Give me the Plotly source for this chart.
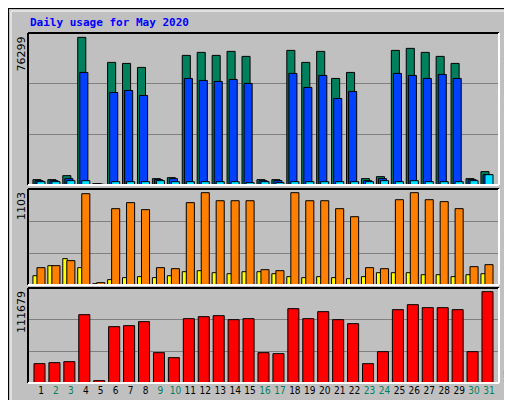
import plotly.graph_objects as go

days = list(range(1, 32))
weekend = [2, 3, 9, 10, 16, 17, 23, 24, 30, 31]
hits = [2762, 2762, 4833, 76299, 690, 63350, 62830, 60760, 3280, 3797, 66970, 68525, 66970, 69045, 66455,
        2762, 2762, 69560, 63350, 69045, 55065, 58170, 3280, 4315, 69560, 70600, 68525, 66455, 62830, 3280, 6904]
files = [2244, 2244, 3280, 58170, 518, 47815, 48850, 46260, 2762, 3280, 55065, 54030, 53510, 54545, 52475,
         2244, 2244, 57650, 50400, 56620, 44710, 48330, 2244, 3280, 57650, 56620, 55065, 57135, 55065, 2762, 5350]
pages = [1726, 1726, 2244, 2244, 345, 1726, 1726, 1726, 2244, 1726, 1726, 1726, 1726, 1726, 1208,
         1726, 1208, 1726, 1726, 1726, 1726, 1726, 1726, 2244, 1726, 2244, 1726, 1726, 1726, 2244, 5350]
sites = [207, 231, 291, 1091, 28, 912, 984, 900, 207, 195, 984, 1103, 1007, 1007, 1007,
         183, 171, 1103, 1007, 1007, 912, 816, 207, 195, 1019, 1103, 1019, 996, 912, 219, 243]
visits = [111, 231, 315, 207, 16, 64, 88, 100, 88, 111, 159, 171, 147, 135, 159,
          159, 135, 100, 88, 100, 88, 76, 100, 147, 147, 147, 123, 123, 100, 123, 135]
kbytes = [23640, 24860, 26090, 83560, 2850, 68880, 70110, 75000, 37090, 30980, 78670, 81110, 82340, 77440, 78670,
          37090, 35870, 90890, 78670, 87230, 77440, 72550, 23640, 38310, 89670, 95790, 92120, 92120, 89670, 38310, 111679]

BG = "#c0c0c0"
line = dict(color="black", width=1)
fig = go.Figure()
def bar(y, color, off, w, ax):
    fig.add_trace(go.Bar(x=days, y=y, marker=dict(color=color, line=line), offset=off, width=w,
                         xaxis=ax[0], yaxis=ax[1], showlegend=False, hoverinfo="skip"))
bar(hits, "#00805c", -0.54, 0.54, ("x", "y"))
bar(files, "#0040ff", -0.4, 0.54, ("x", "y"))
bar(pages, "#00e0ff", -0.27, 0.54, ("x", "y"))
bar(visits, "#ffff00", -0.54, 0.3, ("x2", "y2"))
bar(sites, "#ff8000", -0.27, 0.54, ("x2", "y2"))
bar(kbytes, "#ff0000", -0.47, 0.74, ("x3", "y3"))

xd = [20/512, 491/512]
xr = [0.13, 31.67]
ticktext = [f"<span style='color:{'#00805c' if d in weekend else 'black'}'>{d}</span>" for d in days]
common_x = dict(domain=xd, range=xr, showgrid=False, zeroline=False, fixedrange=True)
fig.update_layout(
    width=512, height=400, margin=dict(l=0, r=0, t=0, b=0),
    paper_bgcolor=BG, plot_bgcolor=BG, barmode="overlay",
    font=dict(family="DejaVu Sans", size=11, color="black"),
    xaxis=dict(**common_x, showticklabels=False, anchor="y"),
    xaxis2=dict(**common_x, showticklabels=False, anchor="y2"),
    xaxis3=dict(**common_x, anchor="y3", tickvals=days, ticktext=ticktext, ticks="", tickangle=0,
                tickfont=dict(size=10, family="DejaVu Sans Condensed"), ticklen=0),
)
def yax(R, dom):
    return dict(domain=dom, range=[0, R], tickvals=[R/3, 2*R/3], showticklabels=False,
                gridcolor="#808080", gridwidth=1, zeroline=False, showline=False)
fig.update_layout(yaxis=yax(78543, [0.5575, 0.9375]) | dict(anchor="x"),
                  yaxis2=yax(1147, [0.3075, 0.5475]) | dict(anchor="x2"),
                  yaxis3=yax(116160, [0.0625, 0.3]) | dict(anchor="x3"))

shapes = []
for y0, y1 in [(0.5575, 0.9375), (0.3075, 0.5475), (0.0625, 0.3)]:
    x0, x1 = xd
    shapes += [
        dict(type="line", xref="paper", yref="paper", x0=x0, x1=x1, y0=y1, y1=y1, line=dict(color="black", width=2)),
        dict(type="line", xref="paper", yref="paper", x0=x0, x1=x0, y0=y0, y1=y1, line=dict(color="black", width=2)),
        dict(type="line", xref="paper", yref="paper", x0=x0, x1=x1, y0=y0, y1=y0, line=dict(color="white", width=2)),
        dict(type="line", xref="paper", yref="paper", x0=x1, x1=x1, y0=y0, y1=y1, line=dict(color="white", width=2)),
    ]
shapes += [
    dict(type="rect", xref="paper", yref="paper", x0=0, x1=1, y0=0, y1=1, line=dict(color="black", width=2)),
    dict(type="rect", xref="paper", yref="paper", x0=3/512, x1=509/512, y0=3/400, y1=397/400,
         line=dict(color="white", width=1)),
]
fig.update_layout(shapes=shapes)

mono = dict(family="DejaVu Sans Mono", size=11)
ann = [
    dict(text="<b>Daily usage for May 2020</b>", x=20/512, y=1-15/400, xanchor="left", yanchor="middle",
         font=dict(color="#0000ff", size=11, family="DejaVu Sans Mono")),
    dict(text="76299", x=13/512, y=1-27/400, yanchor="top", font=dict(size=11)),
    dict(text="1103", x=13/512, y=1-182/400, yanchor="top", font=dict(size=11)),
    dict(text="111679", x=13/512, y=1-281/400, yanchor="top", font=dict(size=11)),
]
right = [("Hits", "#00805c", 28), ("/", "#808080", 48), ("Files", "#0040ff", 54), ("/", "#808080", 96),
         ("Pages", "#00e0ff", 104),
         ("Visits", "#ffff00", 198), ("/", "#808080", 223), ("Sites", "#ff8000", 230),
         ("KBytes", "#ff0000", 332)]
for t, c, ytop in right:
    ann.append(dict(text=t, x=500/512, y=1-ytop/400, yanchor="top", font=dict(color=c, **mono)))
for a in ann:
    a.update(xref="paper", yref="paper", showarrow=False, textangle=-90, xanchor="center")
ann[0]["textangle"] = 0
ann[0]["xanchor"] = "left"
ann[0]["yanchor"] = "middle"
fig.update_layout(annotations=ann)
fig.write_html("out.html")
